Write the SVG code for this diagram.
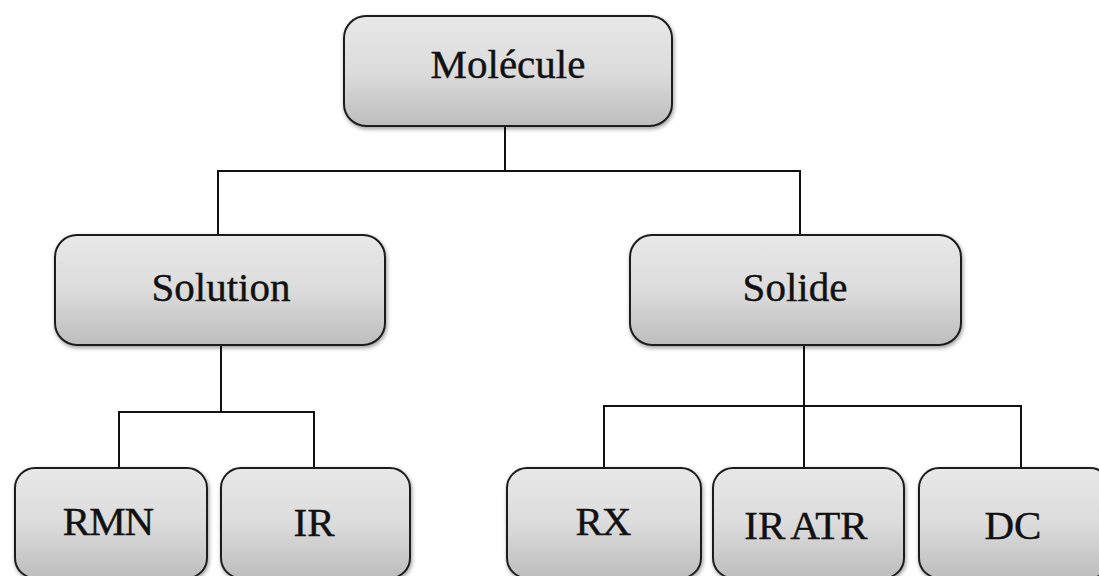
<svg xmlns="http://www.w3.org/2000/svg" width="1099" height="576" viewBox="0 0 1099 576">
<style>
.box{fill:url(#g);stroke:#1e1e1e;stroke-width:2;filter:url(#sh)}
.lbl{font-family:"Liberation Serif","Times New Roman",serif;font-size:41px;fill:#111;stroke:#111;stroke-width:0.4;text-anchor:middle}
.con{stroke:#111;stroke-width:2;fill:none}
</style>
<defs>
<linearGradient id="g" x1="0" y1="0" x2="0" y2="1">
<stop offset="0" stop-color="#e8e8e8"/>
<stop offset="0.5" stop-color="#dcdcdc"/>
<stop offset="1" stop-color="#bdbdbd"/>
</linearGradient>
<filter id="sh" x="-10%" y="-10%" width="130%" height="130%">
<feGaussianBlur in="SourceAlpha" stdDeviation="2"/>
<feOffset dx="1" dy="2" result="b"/>
<feComponentTransfer><feFuncA type="linear" slope="0.4"/></feComponentTransfer>
<feMerge><feMergeNode/><feMergeNode in="SourceGraphic"/></feMerge>
</filter>
</defs>
<rect width="1099" height="576" fill="#fff"/>
<g id="connectors">
<path class="con" d="M505,126 V171 M218,235 V171 H800 V235"/>
<path class="con" d="M221,345 V412 M119,468 V412 H314 V468"/>
<path class="con" d="M804,345 V468 M604,468 V406 H1021 V468"/>
</g>
<g id="molecule"><rect class="box" x="344" y="16" width="328" height="110" rx="22"/><text class="lbl" x="508" y="78">Molécule</text></g>
<g id="solution"><rect class="box" x="55" y="235" width="330" height="110" rx="22"/><text class="lbl" x="221" y="301">Solution</text></g>
<g id="solide"><rect class="box" x="630" y="235" width="331" height="110" rx="22"/><text class="lbl" x="795" y="301">Solide</text></g>
<g id="rmn"><rect class="box" x="15" y="468" width="192" height="110" rx="20"/><text class="lbl" x="108" y="535" letter-spacing="-1">RMN</text></g>
<g id="ir"><rect class="box" x="221" y="468" width="189" height="110" rx="20"/><text class="lbl" x="314" y="536">IR</text></g>
<g id="rx"><rect class="box" x="507" y="468" width="194" height="110" rx="20"/><text class="lbl" x="603" y="535" letter-spacing="-1">RX</text></g>
<g id="iratr"><rect class="box" x="713" y="468" width="191" height="110" rx="20"/><text class="lbl" x="806" y="539" word-spacing="-3">IR ATR</text></g>
<g id="dc"><rect class="box" x="919" y="468" width="191" height="110" rx="20"/><text class="lbl" x="1013" y="539">DC</text></g>
</svg>
